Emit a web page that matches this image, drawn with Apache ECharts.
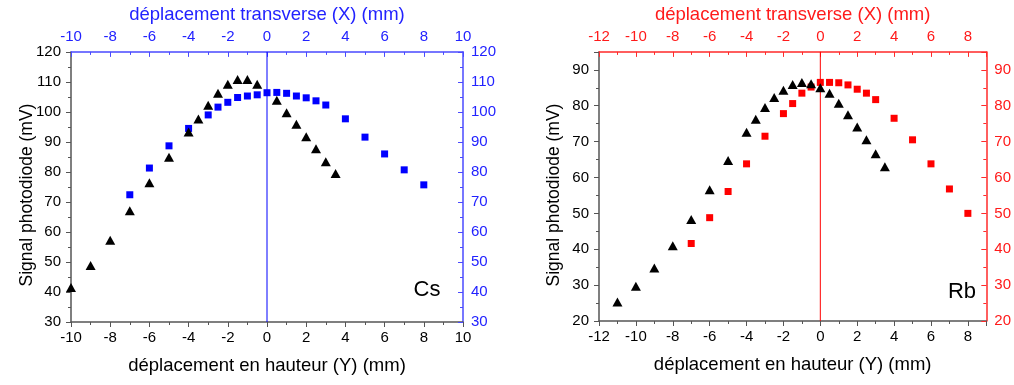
<!DOCTYPE html>
<html><head><meta charset="utf-8">
<script src="https://cdn.jsdelivr.net/npm/echarts@6/dist/echarts.min.js"></script>
<style>html,body{margin:0;padding:0;background:#fff}#c{width:1014px;height:385px}</style>
</head><body><div id="c"></div>
<script>
// Cs: signal vs hauteur (Y) - triangles
const csY_x = [-10,-9,-8,-7,-6,-5,-4,-3.5,-3,-2.5,-2,-1.5,-1,-0.5,0.5,1,1.5,2,2.5,3,3.5];
const csY_v = [41.5,48.8,57.2,67.1,76.4,84.9,93.3,97.6,102.2,106.2,109.2,110.8,110.8,109.2,103.9,99.7,95.9,91.7,87.7,83.4,79.5];
// Cs: signal vs transverse (X) - squares
const csX_x = [-7,-6,-5,-4,-3,-2.5,-2,-1.5,-1,-0.5,0,0.5,1,1.5,2,2.5,3,4,5,6,7,8];
const csX_v = [72.4,81.3,88.7,94.5,99.0,101.6,103.2,104.8,105.3,105.7,106.4,106.5,106.2,105.3,104.7,103.7,102.3,97.7,91.6,86.0,80.7,75.7];
// Rb: signal vs hauteur (Y) - triangles
const rbY_x = [-11,-10,-9,-8,-7,-6,-5,-4,-3.5,-3,-2.5,-2,-1.5,-1,-0.5,0,0.5,1,1.5,2,2.5,3,3.5];
const rbY_v = [25.3,29.7,34.8,41.0,48.3,56.6,64.7,72.6,76.2,79.5,82.3,84.3,85.9,86.5,86.1,85.0,83.5,80.7,77.5,74.1,70.5,66.6,63.0];
// Rb: signal vs transverse (X) - squares
const rbX_x = [-7,-6,-5,-4,-3,-2,-1.5,-1,-0.5,0,0.5,1,1.5,2,2.5,3,4,5,6,7,8];
const rbX_v = [41.6,48.8,56.1,63.8,71.5,77.8,80.6,83.5,85.2,86.5,86.5,86.4,85.8,84.6,83.5,81.7,76.5,70.5,63.8,56.8,50.0];

// axis ranges
const csXRange = [-10, 10], csYRange = [30, 120];
const rbXRange = [-12, 9], rbYRange = [20, 95];

const titleBottom = 'déplacement en hauteur (Y) (mm)';
const titleTop = 'déplacement transverse (X) (mm)';
const titleY = 'Signal photodiode (mV)';

const FONT = '"Liberation Sans", Arial, sans-serif';
const GRAY = '#555555';
const BLUE = '#0000ff', BLUE_AX = '#4a4aff', BLUE_TXT = '#2222ff';
const RED = '#ff0000', RED_AX = '#ff2a2a', RED_TXT = '#ff1a1a';

const zip = (a, b) => a.map((v, i) => [v, b[i]]);
const lbl = (color, extra) => Object.assign({color: color, fontFamily: FONT, fontSize: 15}, extra || {});
const nameStyle = (color) => ({color: color, fontFamily: FONT, fontSize: 18.5});

function ax(o) {
  return Object.assign({
    type: 'value', splitLine: {show: false},
    axisLine: {show: true, onZero: false, lineStyle: {color: o.color, width: 1.5}},
    axisTick: {show: true, inside: o.inside, length: 5, lineStyle: {color: o.color, width: 1}},
    minorTick: {show: !!o.minor, splitNumber: 2, length: 3, lineStyle: {color: o.color}},
    axisLabel: lbl(o.txt, {margin: o.margin || 8, formatter: o.fmt}),
    nameLocation: 'middle', nameTextStyle: nameStyle(o.txt)
  }, o.base);
}
function tickOnly(base, color, inside) {
  return Object.assign({
    type: 'value', splitLine: {show: false},
    axisLine: {show: false, onZero: false},
    axisLabel: {show: false},
    axisTick: {show: true, inside: inside, length: 3, lineStyle: {color: color, width: 1}}
  }, base);
}

const hideMax = (mx) => (v) => (v === mx ? '' : String(v));

const option = {
  animation: false,
  backgroundColor: '#fff',
  grid: [
    {left: 71, right: 551, top: 46, bottom: 63},
    {left: 599, right: 24, top: 46, bottom: 64}
  ],
  xAxis: [
    ax({color: GRAY, txt: '#000', inside: false, minor: true,
      base: {gridIndex: 0, position: 'bottom', min: csXRange[0], max: csXRange[1], interval: 2, name: titleBottom, nameGap: 34}}),
    ax({color: BLUE_AX, txt: BLUE_TXT, inside: true, minor: true,
      base: {gridIndex: 0, position: 'top', min: csXRange[0], max: csXRange[1], interval: 2, name: titleTop, nameGap: 27}}),
    ax({color: GRAY, txt: '#000', inside: false, minor: false, fmt: hideMax(rbXRange[1]),
      base: {gridIndex: 1, position: 'bottom', min: rbXRange[0], max: rbXRange[1], interval: 2, name: titleBottom, nameGap: 34}}),
    ax({color: RED_AX, txt: RED_TXT, inside: true, minor: false, fmt: hideMax(rbXRange[1]),
      base: {gridIndex: 1, position: 'top', min: rbXRange[0], max: rbXRange[1], interval: 2, name: titleTop, nameGap: 27}}),
    tickOnly({gridIndex: 1, position: 'bottom', min: rbXRange[0], max: rbXRange[1], interval: 1}, GRAY, false),
    tickOnly({gridIndex: 1, position: 'top', min: rbXRange[0], max: rbXRange[1], interval: 1}, RED_AX, true)
  ],
  yAxis: [
    ax({color: GRAY, txt: '#000', inside: false, minor: true, margin: 10,
      base: {gridIndex: 0, position: 'left', min: csYRange[0], max: csYRange[1], interval: 10}}),
    ax({color: BLUE_AX, txt: BLUE_TXT, inside: true, minor: true,
      base: {gridIndex: 0, position: 'right', min: csYRange[0], max: csYRange[1], interval: 10}}),
    ax({color: GRAY, txt: '#000', inside: false, minor: false, margin: 10, fmt: hideMax(rbYRange[1]),
      base: {gridIndex: 1, position: 'left', min: rbYRange[0], max: rbYRange[1], interval: 10}}),
    ax({color: RED_AX, txt: RED_TXT, inside: true, minor: false, fmt: hideMax(rbYRange[1]),
      base: {gridIndex: 1, position: 'right', min: rbYRange[0], max: rbYRange[1], interval: 10}}),
    tickOnly({gridIndex: 1, position: 'left', min: rbYRange[0], max: rbYRange[1], interval: 5}, GRAY, false),
    tickOnly({gridIndex: 1, position: 'right', min: rbYRange[0], max: rbYRange[1], interval: 5}, RED_AX, true)
  ],
  series: [
    {type: 'line', xAxisIndex: 1, yAxisIndex: 1, symbol: 'none', silent: true,
      lineStyle: {color: BLUE, width: 1, opacity: 1}, data: [[0, csYRange[0]], [0, csYRange[1]]], z: 1},
    {type: 'scatter', xAxisIndex: 1, yAxisIndex: 1, symbol: 'rect', symbolSize: 7,
      itemStyle: {color: BLUE, opacity: 1}, data: zip(csX_x, csX_v), z: 2},
    {type: 'scatter', xAxisIndex: 0, yAxisIndex: 0, symbol: 'triangle', symbolSize: [10, 9],
      itemStyle: {color: '#000', opacity: 1}, data: zip(csY_x, csY_v), z: 3},
    {type: 'line', xAxisIndex: 3, yAxisIndex: 3, symbol: 'none', silent: true,
      lineStyle: {color: RED, width: 1, opacity: 1}, data: [[0, rbYRange[0]], [0, rbYRange[1]]], z: 1},
    {type: 'scatter', xAxisIndex: 3, yAxisIndex: 3, symbol: 'rect', symbolSize: 7,
      itemStyle: {color: RED, opacity: 1}, data: zip(rbX_x, rbX_v), z: 2},
    {type: 'scatter', xAxisIndex: 2, yAxisIndex: 2, symbol: 'triangle', symbolSize: [10, 9],
      itemStyle: {color: '#000', opacity: 1}, data: zip(rbY_x, rbY_v), z: 3}
  ],
  graphic: [
    {type: 'text', x: 27, y: 195, rotation: Math.PI / 2,
      style: {text: titleY, fill: '#000', font: '17.5px ' + FONT, align: 'center', verticalAlign: 'middle'}},
    {type: 'text', x: 554, y: 195, rotation: Math.PI / 2,
      style: {text: titleY, fill: '#000', font: '17.5px ' + FONT, align: 'center', verticalAlign: 'middle'}},
    {type: 'text', x: 427, y: 290, style: {text: 'Cs', fill: '#000', font: '22px ' + FONT, align: 'center', verticalAlign: 'middle'}},
    {type: 'text', x: 962, y: 292, style: {text: 'Rb', fill: '#000', font: '22px ' + FONT, align: 'center', verticalAlign: 'middle'}}
  ]
};
const chart = echarts.init(document.getElementById('c'), null, {renderer: 'canvas'});
chart.setOption(option);
</script></body></html>
